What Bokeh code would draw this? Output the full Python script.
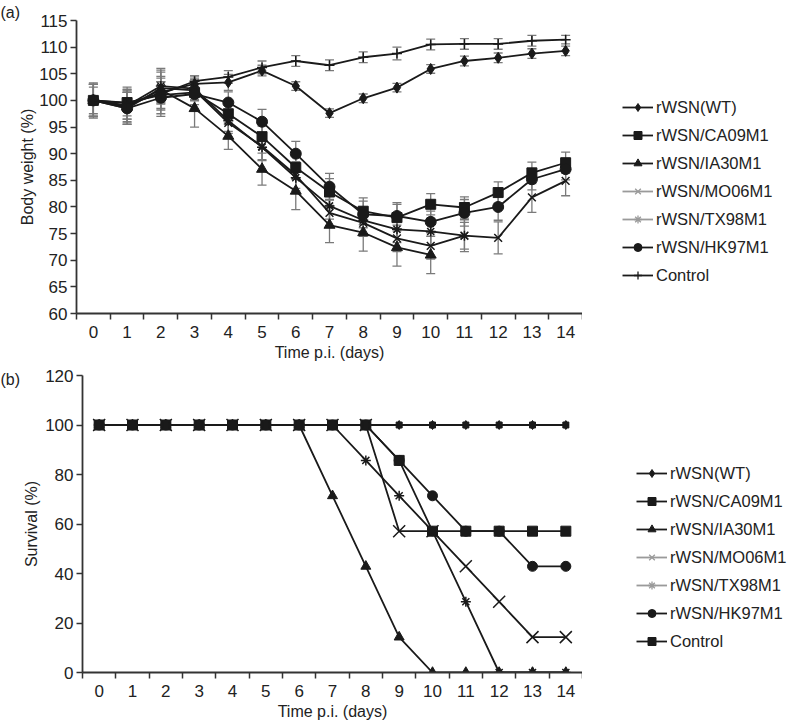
from bokeh.plotting import figure
from bokeh.models import (ColumnDataSource, Whisker, TeeHead, FixedTicker, Legend,
                          LegendItem, Range1d, Title)
from bokeh.core.properties import value
from bokeh.layouts import column, row
from bokeh.embed import file_html
from bokeh.resources import INLINE

# ---------------- data ----------------
days = [0, 1, 2, 3, 4, 5, 6, 7, 8, 9, 10, 11, 12, 13, 14]
series_names = ["rWSN(WT)", "rWSN/CA09M1", "rWSN/IA30M1", "rWSN/MO06M1",
                "rWSN/TX98M1", "rWSN/HK97M1", "Control"]

# (a) body weight (%)
weight_wt = [100, 99.0, 101.5, 103.1, 103.4, 105.6, 102.7, 97.6, 100.4, 102.4, 105.9, 107.4, 108.0, 108.8, 109.3]
weight_ca09 = [100, 99.6, 101.0, 101.5, 97.5, 93.2, 87.4, 82.8, 79.2, 78.0, 80.5, 79.9, 82.7, 86.4, 88.3]
weight_ia30 = [100, 98.8, 102.0, 98.5, 93.3, 87.1, 83.0, 76.6, 75.2, 72.4, 71.0]
weight_mo06 = [100, 98.5, 102.3, 101.9, 95.8, 91.4, 86.0, 78.9, 77.0, 74.1, 72.7, 74.6, 74.2, 81.8, 84.9]
weight_tx98 = [100, 99.0, 102.7, 102.2, 96.2, 91.2, 85.5, 80.2, 77.5, 75.8, 75.4, 74.6]
weight_hk97 = [100, 98.5, 100.5, 101.2, 99.6, 96.0, 90.0, 83.8, 78.6, 78.3, 77.2, 78.9, 80.0, 85.2, 87.1]
weight_ctrl = [100, 99.5, 101.2, 103.6, 104.4, 106.2, 107.4, 106.6, 108.1, 108.8, 110.5, 110.6, 110.6, 111.2, 111.4]

# error bars (+/-) for (a)
err_wt = [3.0, 2.5, 4.5, 1.5, 1.5, 1.0, 0.8, 0.8, 0.8, 0.8, 0.8, 0.9, 0.9, 0.9, 0.9]
err_ca09 = [2.5, 2.5, 2.5, 1.5, 2.0, 2.0, 2.2, 2.5, 2.5, 2.5, 2.0, 2.0, 2.0, 2.0, 2.0]
err_ia30 = [3.0, 3.0, 2.5, 3.5, 2.5, 3.0, 3.5, 3.3, 3.5, 3.5, 3.5]
err_mo06 = [3.0, 3.0, 3.0, 2.0, 2.0, 2.5, 2.5, 2.5, 2.5, 2.5, 2.5, 3.0, 3.0, 2.8, 2.8]
err_tx98 = [3.0, 3.0, 3.0, 2.0, 2.0, 2.5, 2.5, 2.5, 2.5, 2.5, 2.5, 2.5]
err_hk97 = [3.0, 3.0, 3.0, 2.0, 2.0, 2.3, 2.3, 2.5, 2.5, 2.5, 2.0, 2.5, 2.5, 2.0, 2.0]
err_ctrl = [3.3, 3.0, 3.0, 1.0, 1.2, 1.2, 1.0, 1.0, 1.0, 1.2, 1.0, 1.0, 1.0, 1.0, 0.8]

# (b) survival (%)
surv_wt = [100, 100, 100, 100, 100, 100, 100, 100, 100, 100, 100, 100, 100, 100, 100]
surv_ca09 = [100, 100, 100, 100, 100, 100, 100, 100, 100, 85.7, 57.1, 57.1, 57.1, 57.1, 57.1]
surv_ia30 = [100, 100, 100, 100, 100, 100, 100, 71.4, 42.9, 14.3, 0, 0, 0, 0, 0]
surv_mo06 = [100, 100, 100, 100, 100, 100, 100, 100, 100, 57.1, 57.1, 42.9, 28.6, 14.3, 14.3]
surv_tx98 = [100, 100, 100, 100, 100, 100, 100, 100, 85.7, 71.4, 57.1, 28.6, 0, 0, 0]
surv_hk97 = [100, 100, 100, 100, 100, 100, 100, 100, 100, 85.7, 71.4, 57.1, 57.1, 42.9, 42.9]
surv_ctrl = [100, 100, 100, 100, 100, 100, 100, 100, 100, 100, 100, 100, 100, 100, 100]

weight_ticks = [60, 65, 70, 75, 80, 85, 90, 95, 100, 105, 110, 115]
surv_ticks = [0, 20, 40, 60, 80, 100, 120]

# ---------------- style ----------------
FONT = "Liberation Sans"
FS = "16px"
FS_TICK = "17px"
FS_LEG = "16.5px"
TXT = "#222222"
AX = "#333333"
INK = "#1a1a1a"
marker_a = ["diamond", "square", "triangle", "x", "asterisk", "circle", "cross"]
marker_b = ["diamond", "square", "triangle", "x", "asterisk", "circle", "square"]
size_a = [11, 10, 11, 11, 10, 11, 10]
size_b = [9, 10, 10, 17, 10, 10, 6]
legend_col = [INK, INK, INK, "#9a9a9a", "#9a9a9a", INK, INK]
NAN = float("nan")


def style_axes(p, yticks):
    p.xaxis.ticker = FixedTicker(ticks=days, minor_ticks=[d - 0.5 for d in days] + [14.5])
    p.yaxis.ticker = FixedTicker(ticks=yticks)
    for ax in (p.xaxis, p.yaxis):
        ax.axis_line_color = AX
        ax.axis_line_width = 1.8
        ax.major_tick_line_color = AX
        ax.major_tick_line_width = 1.5
        ax.minor_tick_line_color = AX
        ax.minor_tick_line_width = 1.5
        ax.major_label_text_font = FONT
        ax.major_label_text_font_size = FS_TICK
        ax.major_label_text_color = TXT
        ax.axis_label_text_font = FONT
        ax.axis_label_text_font_size = FS
        ax.axis_label_text_font_style = "normal"
        ax.axis_label_text_color = TXT
    p.xaxis.major_tick_out = 0
    p.xaxis.major_tick_in = 0
    p.xaxis.minor_tick_out = 6
    p.xaxis.minor_tick_in = 0
    p.xaxis.major_label_standoff = 6
    p.xaxis.axis_label_standoff = 3
    p.yaxis.major_tick_out = 6
    p.yaxis.major_tick_in = 0
    p.yaxis.minor_tick_line_color = None
    p.yaxis.major_label_standoff = 3
    p.yaxis.axis_label_standoff = 2
    p.xgrid.grid_line_color = None
    p.ygrid.grid_line_color = None
    p.outline_line_color = None


def legend_figure(height, markers, sizes, loc):
    f = figure(output_backend="svg", toolbar_location=None, width=205, height=height,
               x_axis_location=None, y_axis_location=None, min_border=0,
               x_range=Range1d(0, 1), y_range=Range1d(0, 1))
    f.xgrid.grid_line_color = None
    f.ygrid.grid_line_color = None
    f.outline_line_color = None
    items = []
    for i, name in enumerate(series_names):
        # legend-only proxy renderers (no visible data point)
        src = ColumnDataSource(data=dict(x=[NAN], y=[NAN]))
        lr = f.line("x", "y", source=src, line_color=legend_col[i], line_width=1.8)
        m = markers[i]
        if m in ("x", "asterisk", "cross"):
            sr = f.scatter("x", "y", source=src, marker=m, size=min(sizes[i], 11) - 2,
                           line_color=legend_col[i], fill_color=None, line_width=1.3)
        else:
            sr = f.scatter("x", "y", source=src, marker=m, size=sizes[i] - 3,
                           line_color=legend_col[i], fill_color=legend_col[i])
        items.append(LegendItem(label=value(name), renderers=[lr, sr]))
    lg = Legend(items=items, location=loc, orientation="vertical")
    lg.label_text_font = FONT
    lg.label_text_font_size = FS_LEG
    lg.label_text_color = TXT
    lg.glyph_width = 31
    lg.glyph_height = 20
    lg.label_height = 20
    lg.label_standoff = 3
    lg.spacing = 8
    lg.padding = 0
    lg.margin = 0
    lg.border_line_color = None
    lg.background_fill_alpha = 0
    f.add_layout(lg)
    return f


def draw_series(p, ys, markers, sizes, errs=None):
    if errs is not None:
        for y, e in zip(ys, errs):
            xs = days[:len(y)]
            src = ColumnDataSource(data=dict(x=xs, up=[a + b for a, b in zip(y, e)],
                                             lo=[a - b for a, b in zip(y, e)]))
            w = Whisker(base="x", upper="up", lower="lo", source=src,
                        line_color="#7a7a7a", line_width=1.3,
                        upper_head=TeeHead(size=9, line_color="#7a7a7a", line_width=1.3),
                        lower_head=TeeHead(size=9, line_color="#7a7a7a", line_width=1.3))
            p.add_layout(w)
    for i, y in enumerate(ys):
        xs = days[:len(y)]
        src = ColumnDataSource(data=dict(x=xs, y=y))
        p.line("x", "y", source=src, line_color=INK, line_width=1.8)
        m = markers[i]
        if m in ("x", "asterisk", "cross"):
            p.scatter("x", "y", source=src, marker=m, size=sizes[i],
                      line_color=INK, fill_color=None, line_width=1.5)
        else:
            p.scatter("x", "y", source=src, marker=m, size=sizes[i],
                      line_color=INK, fill_color=INK)


def panel_title(p, text, standoff):
    t = Title(text=text, align="left", offset=-p.min_border_left, standoff=standoff,
              text_font=FONT, text_font_size=FS, text_font_style="normal", text_color=TXT)
    p.add_layout(t, "above")


# ---------------- (a) ----------------
pa = figure(output_backend="svg", toolbar_location=None,
            frame_width=506, frame_height=293,
            min_border_left=76, min_border_right=0, min_border_top=20, min_border_bottom=50,
            x_range=Range1d(-0.5, 14.5), y_range=Range1d(60, 115),
            x_axis_label="Time p.i. (days)", y_axis_label="Body weight (%)")
style_axes(pa, weight_ticks)
pa.yaxis.axis_label_standoff = 0
panel_title(pa, "(a)", 0)
draw_series(pa,
            [weight_wt, weight_ca09, weight_ia30, weight_mo06, weight_tx98, weight_hk97, weight_ctrl],
            marker_a, size_a,
            [err_wt, err_ca09, err_ia30, err_mo06, err_tx98, err_hk97, err_ctrl])
la = legend_figure(363, marker_a, size_a, (40, 28))

# ---------------- (b) ----------------
pb = figure(output_backend="svg", toolbar_location=None,
            frame_width=500, frame_height=297,
            min_border_left=82, min_border_right=0, min_border_top=12, min_border_bottom=50,
            x_range=Range1d(-0.5, 14.5), y_range=Range1d(0, 120),
            x_axis_label="Time p.i. (days)", y_axis_label="Survival (%)")
style_axes(pb, surv_ticks)
panel_title(pb, "(b)", -25)
draw_series(pb,
            [surv_wt, surv_ca09, surv_ia30, surv_mo06, surv_tx98, surv_hk97, surv_ctrl],
            marker_b, size_b)
lb = legend_figure(358, marker_b, size_b, (54, 20))

layout = column(row(pa, la, spacing=0), row(pb, lb, spacing=0), spacing=0)
open("out.html", "w").write(file_html(layout, INLINE))
